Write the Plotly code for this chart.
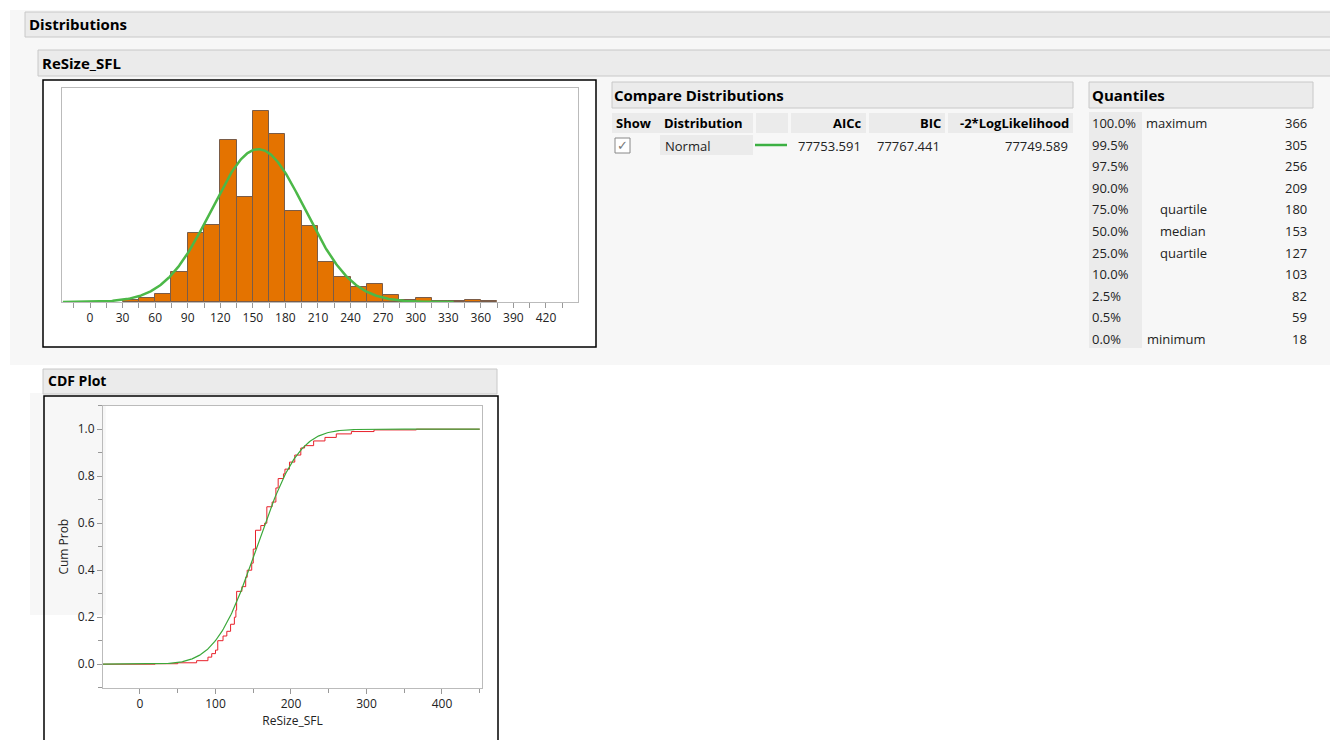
import numpy as np
from math import erf
import plotly.graph_objects as go

W, H = 1338, 740
# ---- data ----
bin_left = [30, 45, 60, 75, 90, 105, 120, 135, 150, 165, 180, 195, 210, 225, 240, 255, 270, 285, 300, 315, 330, 345, 360]
bin_counts = [11, 27, 57, 204, 472, 527, 1105, 715, 1305, 1151, 620, 518, 272, 170, 102, 125, 45, 11, 30, 5, 7, 16, 7]
bin_width = 15
fit_mean, fit_sd = 155.0, 43.0
ecdf_x = [-50, 20, 50, 75, 90, 95, 100, 103, 110, 115, 120, 125, 127, 128, 135, 140, 142, 148, 150, 153, 160, 165, 168,
          175, 180, 183, 190, 192, 198, 205, 213, 218, 230, 245, 260, 280, 310, 366, 450]
ecdf_y = [0, 0.002, 0.006, 0.015, 0.03, 0.045, 0.06, 0.1, 0.12, 0.14, 0.17, 0.2, 0.23, 0.31, 0.33, 0.37, 0.4, 0.43, 0.49,
          0.57, 0.59, 0.6, 0.67, 0.69, 0.75, 0.79, 0.81, 0.83, 0.86, 0.89, 0.92, 0.93, 0.95, 0.965, 0.98, 0.99, 0.997, 1.0, 1.0]
cmp_headers = ["Show", "Distribution", "", "AICc", "BIC", "-2*LogLikelihood"]
cmp_row = ["Normal", "77753.591", "77767.441", "77749.589"]
q_pct = ["100.0%", "99.5%", "97.5%", "90.0%", "75.0%", "50.0%", "25.0%", "10.0%", "2.5%", "0.5%", "0.0%"]
q_lab = ["maximum", "", "", "", "quartile", "median", "quartile", "", "", "", "minimum"]
q_val = ["366", "305", "256", "209", "180", "153", "127", "103", "82", "59", "18"]

FONT = "Open Sans"
OFF = 8  # page body margin
def px(x): return (x - OFF) / W
def py(y): return 1 - (y - OFF) / H

shapes, ann = [], []
def rect(x0, y0, x1, y1, fill=None, line=None, lw=1):
    shapes.append(dict(type="rect", xref="paper", yref="paper", x0=px(x0), x1=px(x1), y0=py(y1), y1=py(y0),
                       fillcolor=fill or "rgba(0,0,0,0)", line=dict(color=line or "rgba(0,0,0,0)", width=lw), layer="below"))
def text(x, y, s, size=13, bold=False, anchor="left", color="#222"):
    ann.append(dict(xref="paper", yref="paper", x=px(x), y=py(y), text=f"<b>{s}</b>" if bold else s, showarrow=False,
                    xanchor=anchor, yanchor="middle", font=dict(family=FONT, size=size, color=color)))

rect(10, 10, 1338, 365, fill="#f7f7f7")
rect(30, 393, 340, 615, fill="#f7f7f7")
rect(25, 12, 1338, 37, fill="#ebebeb", line="#c8c8c8")
text(27, 24, "Distributions", 15, True, color="black")
rect(38, 50, 1338, 76, fill="#ebebeb", line="#c8c8c8")
text(40, 63, "ReSize_SFL", 15, True, color="black")
rect(43, 80, 596, 347, fill="white", line="black", lw=1.5)
rect(612, 82, 1073, 108, fill="#ebebeb", line="#c8c8c8")
text(612, 95, "Compare Distributions", 15, True, color="black")
cols = [(612, 660), (660, 753), (756, 788), (791, 866), (869, 945), (948, 1073)]
for (a, b), h in zip(cols, cmp_headers):
    rect(a, 113, b, 133, fill="#ebebeb")
    if h in ("Show", "Distribution"):
        text(a + 2, 123, h, 13, True, color="black")
    elif h:
        text(b - 2, 123, h, 13, True, "right", color="black")
rect(660, 135, 753, 155, fill="#ebebeb")
text(663, 146, cmp_row[0], 13)
rect(615, 138, 630, 153, fill="white", line="#888")
text(622.5, 145, "✓", 13, False, "center", "#777")
shapes.append(dict(type="line", xref="paper", yref="paper", x0=px(755), x1=px(787), y0=py(145), y1=py(145),
                   line=dict(color="#3cb043", width=2.5)))
for (a, b), v in zip(cols[3:], cmp_row[1:]):
    text(b - 3, 146, v, 13, anchor="right")
rect(1089, 82, 1313, 108, fill="#ebebeb", line="#c8c8c8")
text(1090, 95, "Quantiles", 15, True, color="black")
rect(1089, 112, 1142, 348, fill="#ebebeb")
for i, (p, l, v) in enumerate(zip(q_pct, q_lab, q_val)):
    y = 123 + i * 21.6
    text(1090, y, p, 13)
    if l:
        text(1176 if l in ("maximum", "minimum") else 1183, y, l, 13, anchor="center")
    text(1309, y, v, 13, anchor="right")
rect(43, 369, 497, 394, fill="#ebebeb", line="#c8c8c8")
text(46, 381, "CDF Plot", 14, True, color="black")
shapes.append(dict(type="path", xref="paper", yref="paper",
                   path=f"M {px(44)},{py(748)} L {px(44)},{py(396)} L {px(498)},{py(396)} L {px(498)},{py(748)}",
                   line=dict(color="black", width=1.5), layer="below"))
rect(105.7, 405.7, 481.7, 687.7, fill="white")

fig = go.Figure()
centers = [b + bin_width / 2 for b in bin_left]
fig.add_trace(go.Bar(x=centers, y=bin_counts, width=bin_width, marker=dict(color="#E47300", line=dict(color="#7a5c48", width=1)),
                     xaxis="x", yaxis="y", showlegend=False))
xs = np.linspace(-25, 335, 400)
area = sum(bin_counts) * bin_width
dens = area * np.exp(-0.5 * ((xs - fit_mean) / fit_sd) ** 2) / (fit_sd * np.sqrt(2 * np.pi))
fig.add_trace(go.Scatter(x=xs, y=dens, mode="lines", line=dict(color="#4cb848", width=2.5), xaxis="x", yaxis="y", showlegend=False))
fig.add_trace(go.Scatter(x=ecdf_x, y=ecdf_y, mode="lines", line=dict(color="#e8202a", width=1, shape="hv"), xaxis="x2", yaxis="y2", showlegend=False))
xc = np.linspace(-50, 450, 400)
cdf = [0.5 * (1 + erf((v - fit_mean) / (fit_sd * np.sqrt(2)))) for v in xc]
fig.add_trace(go.Scatter(x=xc, y=cdf, mode="lines", line=dict(color="#3aa83a", width=1.2), xaxis="x2", yaxis="y2", showlegend=False))

ymax = max(bin_counts) * 214 / 191
axfont = dict(family=FONT, size=12, color="#222")
fig.update_layout(
    width=W, height=H, margin=dict(l=0, r=0, t=0, b=0), paper_bgcolor="white", plot_bgcolor="white",
    shapes=shapes, annotations=ann, bargap=0,
    xaxis=dict(domain=[px(62), px(578)], anchor="y", range=[-25.8, 449.5], tickvals=list(range(0, 421, 30)),
               ticks="outside", ticklen=5, tickcolor="#999", showgrid=False, zeroline=False, showline=True, mirror=True,
               linecolor="#bbb", tickfont=axfont,
               minor=dict(tickvals=list(range(-15, 450, 30)), ticks="outside", ticklen=5, tickcolor="#999")),
    yaxis=dict(domain=[py(302), py(88)], anchor="x", range=[0, ymax], showticklabels=False, showgrid=False,
               zeroline=False, showline=True, mirror=True, linecolor="#bbb"),
    xaxis2=dict(domain=[px(103), px(482)], anchor="y2", range=[-49, 453], tickvals=[0, 100, 200, 300, 400],
                ticks="outside", ticklen=5, tickcolor="#999", showgrid=False, zeroline=False, showline=True, mirror=True,
                linecolor="#bbb", tickfont=axfont, title=dict(text="ReSize_SFL", font=axfont, standoff=4),
                minor=dict(tickvals=[-50, 50, 150, 250, 350, 450], ticks="outside", ticklen=4, tickcolor="#999")),
    yaxis2=dict(domain=[py(687.7), py(405.7)], anchor="x2", range=[-0.1, 1.1], tickvals=[0, 0.2, 0.4, 0.6, 0.8, 1.0],
                tickformat=".1f", ticks="outside", ticklen=5, tickcolor="#999", showgrid=False, zeroline=False,
                showline=True, mirror=True, linecolor="#bbb", tickfont=axfont,
                title=dict(text="Cum Prob", font=axfont, standoff=6),
                minor=dict(tickvals=[-0.1, 0.1, 0.3, 0.5, 0.7, 0.9, 1.1], ticks="outside", ticklen=4, tickcolor="#999")),
)
fig.write_html("out.html")
